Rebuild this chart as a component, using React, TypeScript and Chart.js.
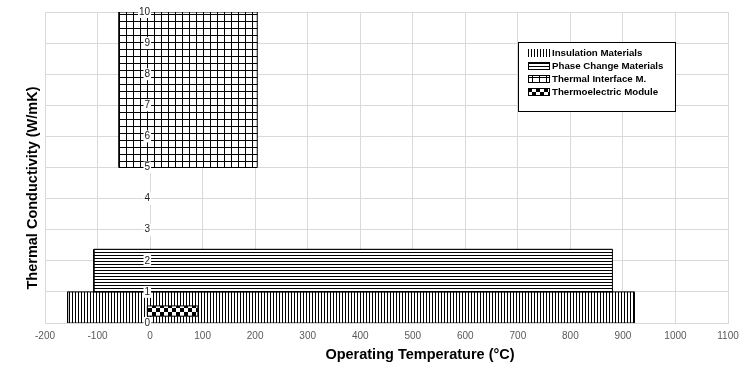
import React, { useEffect, useRef } from 'react';
import { Chart, registerables } from 'chart.js';

Chart.register(...registerables);

const categories = ['Insulation Materials', 'Phase Change Materials', 'Thermal Interface M.', 'Thermoelectric Module'];
const tempMin = [-157, -107, -59, -5];
const tempMax = [922, 880, 204, 91];
const kMin = [0, 1, 5, 0.22];
const kMax = [1, 2.37, 10, 0.55];
const patternKinds = ['vertical', 'horizontal', 'grid', 'checker'];
const drawOrder = [3, 2, 1, 0];

const xTitle = 'Operating Temperature (°C)';
const yTitle = 'Thermal Conductivity (W/mK)';
const FONT = '"Liberation Sans", Arial, sans-serif';

function makePattern(kind: string): CanvasPattern | string {
  const c = document.createElement('canvas');
  const size = kind === 'grid' ? 7 : kind === 'checker' ? 8 : 3;
  c.width = size;
  c.height = size;
  const g = c.getContext('2d');
  if (!g) return '#fff';
  g.fillStyle = '#fff';
  g.fillRect(0, 0, size, size);
  g.fillStyle = '#000';
  if (kind === 'vertical') g.fillRect(0, 0, 1, size);
  else if (kind === 'horizontal') g.fillRect(0, 0, size, 1);
  else if (kind === 'grid') {
    g.fillRect(0, 0, size, 1);
    g.fillRect(0, 0, 1, size);
  } else {
    g.fillRect(0, 0, 4, 4);
    g.fillRect(4, 4, 4, 4);
  }
  const p = g.createPattern(c, 'repeat');
  return p || '#fff';
}

export default function App() {
  const ref = useRef<HTMLCanvasElement | null>(null);

  useEffect(() => {
    if (!ref.current) return;
    const patterns = patternKinds.map(makePattern);

    const datasets = categories.map((label, i) => ({
      label,
      data: [
        { x: tempMin[i], y: kMin[i] },
        { x: tempMax[i], y: kMin[i] },
        { x: tempMax[i], y: kMax[i] },
        { x: tempMin[i], y: kMax[i] },
        { x: tempMin[i], y: kMin[i] },
      ],
      showLine: true,
      fill: 'shape',
      backgroundColor: patterns[i],
      borderColor: '#000',
      borderWidth: 1,
      pointRadius: 0,
      tension: 0,
      order: drawOrder[i],
      xAxisID: 'x',
      yAxisID: 'y',
    }));

    const extras = {
      id: 'extras',
      afterDraw(chart: any) {
        const ctx = chart.ctx;
        ctx.save();
        ctx.fillStyle = '#000';
        ctx.font = `bold 14.5px ${FONT}`;
        ctx.textAlign = 'center';
        ctx.textBaseline = 'middle';
        ctx.fillText(xTitle, 420, 355);
        ctx.save();
        ctx.translate(33, 188);
        ctx.rotate(-Math.PI / 2);
        ctx.font = `bold 14.5px ${FONT}`;
        ctx.fillText(yTitle, 0, 0);
        ctx.restore();

        // legend
        const lx = 518.5, ly = 42.5, lw = 157, lh = 69;
        ctx.fillStyle = '#fff';
        ctx.fillRect(lx, ly, lw, lh);
        ctx.strokeStyle = '#000';
        ctx.lineWidth = 1;
        ctx.strokeRect(lx, ly, lw, lh);
        const rows = [53, 66, 79, 92];
        categories.forEach((label, i) => {
          const cy = rows[i];
          ctx.fillStyle = patterns[i];
          ctx.fillRect(528, cy - 4, 22, 8);
          if (i > 0) {
            ctx.strokeStyle = '#000';
            ctx.strokeRect(528.5, cy - 3.5, 21, 7);
          }
          ctx.fillStyle = '#000';
          ctx.font = `bold 9.7px ${FONT}`;
          ctx.textAlign = 'left';
          ctx.textBaseline = 'middle';
          ctx.fillText(label, 552, cy);
        });
        ctx.restore();
      },
    };

    const chart = new Chart(ref.current, {
      type: 'scatter',
      data: { datasets: datasets as any },
      options: {
        animation: false,
        responsive: true,
        maintainAspectRatio: false,
        events: [],
        layout: { padding: { left: 45, right: 22, top: 12, bottom: 0 } },
        plugins: {
          legend: { display: false },
          tooltip: { enabled: false },
        },
        scales: {
          x: {
            type: 'linear',
            min: -200,
            max: 1100,
            ticks: {
              stepSize: 100,
              color: '#595959',
              font: { size: 10, family: FONT },
              padding: 7,
              maxRotation: 0,
              autoSkip: false,
              callback: (v: any) => String(v),
            },
            grid: { color: '#d9d9d9', drawTicks: false },
            border: { color: '#d9d9d9' },
            afterFit: (s: any) => {
              s.height = 44;
            },
          },
          y: {
            type: 'linear',
            position: 'left',
            min: 0,
            max: 10,
            ticks: { display: false, stepSize: 1 },
            grid: { color: '#d9d9d9', drawTicks: false },
            border: { display: false },
            afterFit: (s: any) => {
              s.width = 0;
            },
          },
          y2: {
            type: 'linear',
            axis: 'y',
            position: { x: 0 },
            min: 0,
            max: 10,
            ticks: {
              z: 1,
              stepSize: 1,
              color: '#222',
              font: { size: 10, family: FONT },
              padding: 2,
              showLabelBackdrop: true,
              backdropColor: '#fff',
              backdropPadding: { left: 1, right: 1, top: 0, bottom: 0 },
              callback: (v: any) => String(v),
            },
            grid: { display: false, drawTicks: false },
            border: { display: false },
          },
        } as any,
      },
      plugins: [extras],
    });

    return () => chart.destroy();
  }, []);

  return (
    <div style={{ position: 'fixed', left: 0, top: 0, width: 750, height: 367, background: '#fff' }}>
      <canvas ref={ref} />
    </div>
  );
}
